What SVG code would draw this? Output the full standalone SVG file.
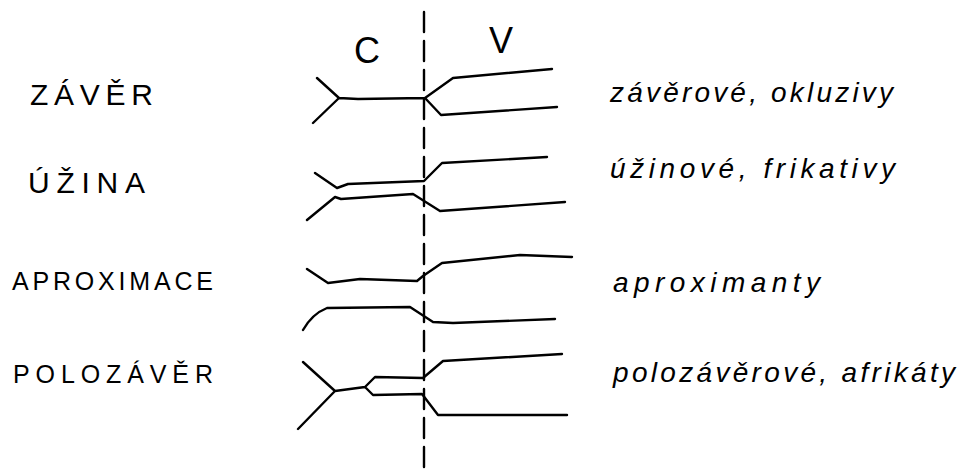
<svg xmlns="http://www.w3.org/2000/svg" width="960" height="470" viewBox="0 0 960 470">
<style>
.s{fill:none;stroke:#000;stroke-width:2.4;stroke-linecap:round;stroke-linejoin:round}
.cap{font-family:"Liberation Sans","DejaVu Sans",sans-serif;fill:#000}
.low{font-family:"Liberation Sans","DejaVu Sans",sans-serif;font-style:italic;fill:#000;font-size:28px}
.hd{font-family:"Liberation Sans","DejaVu Sans",sans-serif;fill:#000;font-size:36px}
</style>
<rect width="960" height="470" fill="#fff"/>
<g id="divider">
<path class="s" d="M424 12 V468" stroke-dasharray="20 9" stroke-width="2"/>
<text class="hd" x="354" y="63">C</text>
<text class="hd" x="489" y="53">V</text>
</g>
<g id="row-zaver">
<text class="cap" x="30" y="105" font-size="30" textLength="123" lengthAdjust="spacing">ZÁVĚR</text>
<path class="s" d="M317 78 L339 98 L313 123 M339 98 L358 99 L425 98 L453 78 L552 69 M425 98 L441 115 L557 107"/>
<text class="low" x="610" y="102" textLength="283" lengthAdjust="spacing">závěrové, okluzivy</text>
</g>
<g id="row-uzina">
<text class="cap" x="28" y="193" font-size="30" textLength="117" lengthAdjust="spacing">ÚŽINA</text>
<path class="s" d="M315 173 L337 188 L348 184 L424 181 L442 163 L547 157"/>
<path class="s" d="M307 220 L335 197 L341 199 L413 194 L440 211 L565 202"/>
<text class="low" x="610" y="178" textLength="285" lengthAdjust="spacing">úžinové, frikativy</text>
</g>
<g id="row-aproximace">
<text class="cap" x="12" y="290" font-size="25" textLength="201" lengthAdjust="spacing">APROXIMACE</text>
<path class="s" d="M307 269 L328 283 L360 279 L417 281 L423 276 L442 263 L520 255 L572 257"/>
<path class="s" d="M303 330 Q312 314 327 308 L410 307 L433 322 L453 323 L555 319"/>
<text class="low" x="613" y="292" textLength="207" lengthAdjust="spacing">aproximanty</text>
</g>
<g id="row-polozaver">
<text class="cap" x="13" y="383" font-size="25" textLength="200" lengthAdjust="spacing">POLOZÁVĚR</text>
<path class="s" d="M303 362 L335 391 L298 429 M335 391 L365 387 L375 377 L423 378 L443 361 L562 354 M365 387 L373 395 L422 394 L438 415 L567 415"/>
<text class="low" x="613" y="382" textLength="342" lengthAdjust="spacing">polozávěrové, afrikáty</text>
</g>
</svg>
